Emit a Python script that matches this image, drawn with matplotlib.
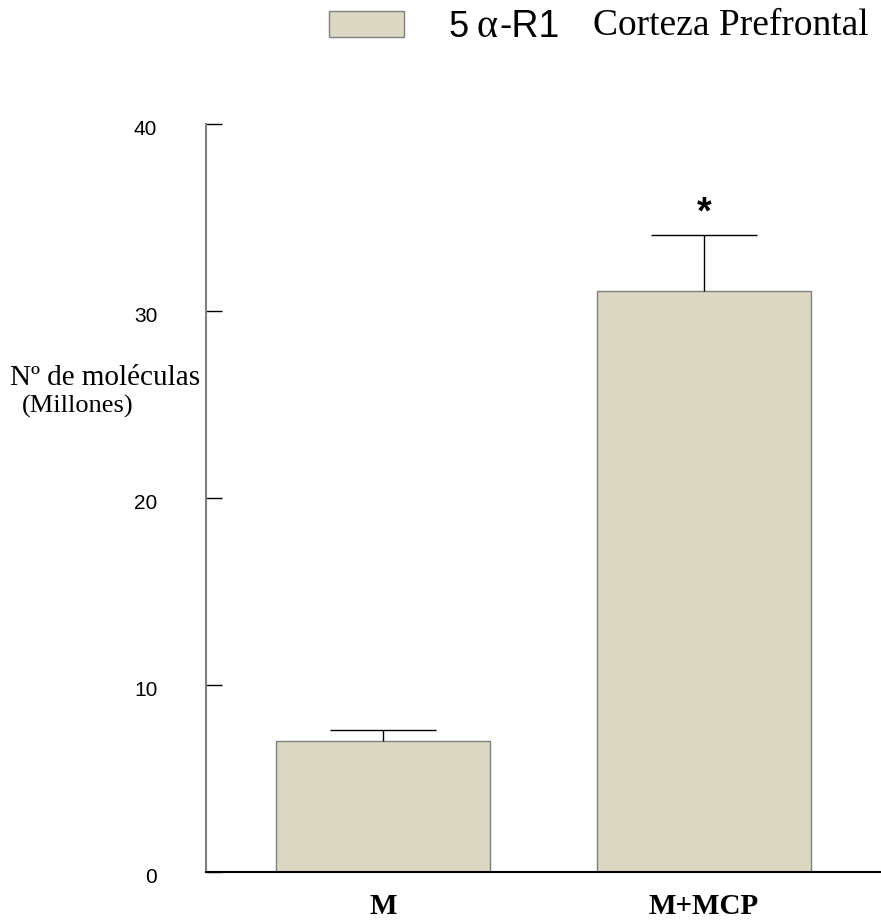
import matplotlib
matplotlib.use("Agg")
import matplotlib.pyplot as plt
from matplotlib.patches import Rectangle
from matplotlib.transforms import ScaledTranslation

# mean and SEM (millions of molecules), 5a-R1 in prefrontal cortex
groups = ["M", "M+MCP"]
means = [7.0, 31.1]
sems = [0.6, 3.0]
yticks = [0, 10, 20, 30, 40]
signif = ["", "*"]

BAR = "#DDD8C3"
EDGE = "#808080"
SANS = "Liberation Sans"
SERIF = "Liberation Serif"

fig = plt.figure(figsize=(8.81, 9.22), dpi=100)
ax = fig.add_axes([0.2338, 0.0539, 0.7662, 0.8111])

x = list(range(len(groups)))
ax.bar(x, means, width=0.667, color=BAR, edgecolor=EDGE, linewidth=1.0, zorder=2)
# upper half of the error bar only
_, caps, _ = ax.errorbar(x, means, yerr=[[0] * len(sems), sems], fmt="none",
                         ecolor="black", elinewidth=1.0, capsize=38.5, capthick=1.0, zorder=3)
caps[0].set_visible(False)

for xi, m, s, lab in zip(x, means, sems, signif):
    if lab:
        ax.annotate(lab, xy=(xi, m + s), xytext=(0, 8), textcoords="offset points",
                    ha="center", va="baseline", fontsize=27, fontweight="bold", family=SANS)

ax.set_xlim(-0.551, 1.551)
ax.set_ylim(0, 40)
ax.set_yticks(yticks)
ax.set_yticklabels([str(t) for t in yticks], family=SANS, fontsize=15)
ax.tick_params(axis="y", direction="in", length=11.5, width=1.0, pad=35, color="black")
off = ScaledTranslation(0, -3.5 / 100, fig.dpi_scale_trans)
for t in ax.get_yticklabels():
    t.set_transform(t.get_transform() + off)

ax.set_xticks(x)
ax.set_xticklabels(groups, family=SERIF, fontsize=21, fontweight="bold")
ax.tick_params(axis="x", length=0, pad=15)

for side in ("top", "right"):
    ax.spines[side].set_visible(False)
ax.spines["left"].set_color(EDGE)
ax.spines["left"].set_linewidth(1.5)
ax.spines["bottom"].set_color("black")
ax.spines["bottom"].set_linewidth(1.5)
ax.spines["bottom"].set_zorder(4)

W, H = 881, 922
fig.text(10 / W, 1 - 385 / H, "Nº de moléculas", family=SERIF, fontsize=21,
         ha="left", va="baseline")
fig.text(22 / W, 1 - 413 / H, "(Millones)", family=SERIF, fontsize=19,
         ha="left", va="baseline")

# legend row
fig.patches.append(Rectangle((329 / W, 1 - 37 / H), 75 / W, 26 / H, transform=fig.transFigure,
                             facecolor=BAR, edgecolor=EDGE, linewidth=1.0))
fig.text(448 / W, 1 - 37 / H, "5", family=SANS, fontsize=26, ha="left", va="baseline")
fig.text(476 / W, 1 - 37 / H, "α", family=SERIF, fontsize=29, ha="left", va="baseline")
fig.text(499 / W, 1 - 37 / H, "-R1", family=SANS, fontsize=27, ha="left", va="baseline")
fig.text(593 / W, 1 - 35 / H, "Corteza Prefrontal", family=SERIF, fontsize=27,
         ha="left", va="baseline")

fig.savefig("out.png", dpi=100)
